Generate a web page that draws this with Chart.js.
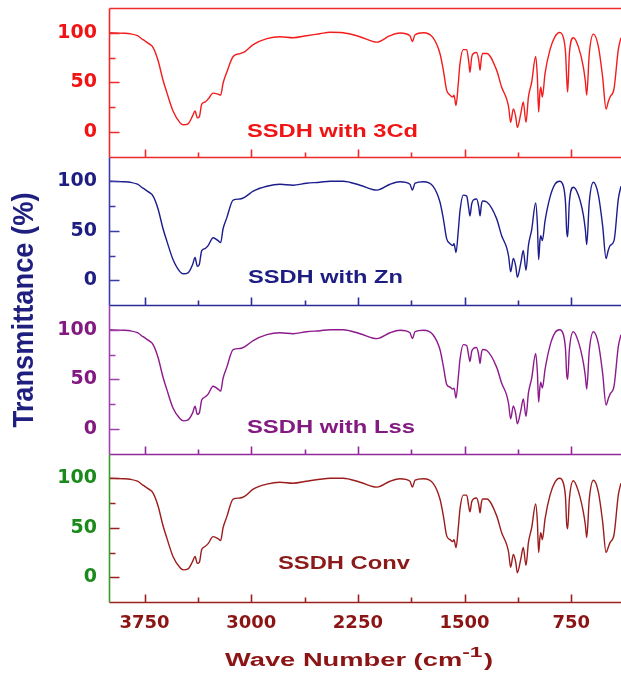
<!DOCTYPE html>
<html>
<head>
<meta charset="utf-8">
<script src="https://cdn.jsdelivr.net/npm/chart.js@4.4.1/dist/chart.umd.min.js"></script>
<style>
  html, body { margin: 0; padding: 0; background: #fff; }
  #ftir { display: block; }
</style>
</head>
<body>
<canvas id="ftir" width="621" height="675"></canvas>
<script>
// wave numbers (cm-1), shared by all four spectra
const waveNumbers = [4000,3900,3852,3800,3761,3720,3690,3655,3620,3592,
  3550,3500,3477,3444,3412,3395,3379,3365,3348,3325,
  3303,3268,3233,3215,3198,3172,3127,3079,3044,2986,
  2890,2798,2706,2611,2517,2446,2354,2235,2116,2024,
  1954,1884,1867,1848,1789,1722,1673,1649,1626,1602,
  1583,1574,1560,1544,1532,1509,1485,1470,1462,1450,
  1438,1415,1400,1391,1382,1372,1344,1274,1239,1204,
  1190,1176,1157,1140,1129,1105,1087,1068,1051,1028,
  1000,988,979,970,964,953,934,899,864,833,
  805,790,782,775,763,735,700,665,650,641,
  623,594,559,529,505,490,477,449,419,400];

// transmittance (%)
const ssdh3Cd = [100,99.5,99,97,93,89,85,72,52,39,
  21,9,7,8,16,21,14,15,28,30,
  33,39,38,37,49,60,76,79,81,88,
  94,96,95,97,99,100.5,100,96,90.5,97,
  99.7,97,91,98,100,95,79,62,42,37,
  35,37,26.5,49,69,83,83,70,60,75,
  79,80,72,62,74,79,79,62,45,33,
  25,9.5,23,15,4.4,18,30,9.5,35,50,
  76,55,20,40,45,35,59,83,96,100.3,
  95,80,55,40,79,95,86,65.6,50,37,
  79,98.6,86,55,23,30,35,43.5,83,95];

const ssdhZn = [100,99.5,99,97,93,89,85,72,52,39,
  21,8.5,6.5,7.5,16,23,14,16,30,32,
  35,43,40,38,52,63,81,82,84,90,
  95,97,96,98,99,100,100,96,91,97,
  99.5,97,91,98,99.5,95,79,62,42,37,
  35,37,28,50,70,86,85,72,65,77,
  81,82,74,65,76,80,79,62,45,33,
  24,8.5,22,14,3,17,30,10,35,51,
  78,57,21,40,45,40,60,84,97,100,
  95,78,50,44,79,94,86,66,50,36,
  79,99,86,55,22,30,35,40,82,95];

const ssdhLss = [100,99.5,99,97,93,89,85,72,52,39,
  21,10,8,9,16,22.7,14.5,16,29,32,
  35,43,40,38,51,62,80,81,83,89,
  95,97,96,98,99,100,100,96,91,97,
  99.5,97,91,98,99.5,95,80,63,45,42,
  40,41,31,52,70,85,84,73,68,78,
  81,82,74,66,76,80,79,62,46,34,
  25,10,23,15,5,18,30,12.5,36,51,
  76,57,27,42,47,41,60,84,97,100,
  95,80,55,50,80,98,88,67,52,40,
  79,98,86,56,24,30,35,43,83,95];

const ssdhConv = [100,99.5,99,97,93,89,85,72,52,39,
  21,9.5,7.5,8.5,16,21,14,15,28,31,
  34,41,39,37,50,61,79,80,82,89,
  94,96,95,97,99,100,100,96,91,97,
  99.5,97,91,98,99.5,95,79,62,42,38,
  36,38,30,50,69,83,83,71,66,76,
  79,80,73,65,75,79,79,62,45,33,
  25,10,23,15,4.5,18,30,12,35,50,
  74,56,25,40,45,38,59,83,96,100,
  95,80,54,49,79,97.5,87,66,52,40,
  79,98,86,56,25,30,35,43,83,95];

const seriesNames = ['SSDH with 3Cd', 'SSDH with Zn', 'SSDH with Lss', 'SSDH Conv'];
const xTicks = [3750, 3000, 2250, 1500, 750];
const yTicks = [0, 50, 100];
const yMinorTicks = [25, 75];

// panel looks, top to bottom
const panels = [
  { id: 'yCd',   values: ssdh3Cd,  line: '#f21c1c', text: '#f01414', side: '#ee2a2a', base: '#ee2a2a', weight: 4, note: { wn: 3030, t: -5.6, w: 171 } },
  { id: 'yZn',   values: ssdhZn,   line: '#1c1c8c', text: '#1e1e82', side: '#3a3aa8', base: '#2a2a98', weight: 3, note: { wn: 3023, t: -3,   w: 155 } },
  { id: 'yLss',  values: ssdhLss,  line: '#8c1a8c', text: '#821a82', side: '#a040b0', base: '#92289a', weight: 2, note: { wn: 3030, t: -4.6, w: 168 } },
  { id: 'yConv', values: ssdhConv, line: '#9b1c1c', text: '#1a8a1a', side: '#3a9a2a', base: '#9b2020', weight: 1, note: { wn: 2812, t: 8.3,  w: 132 }, noteColor: '#8b1a1a' }
];

const textFont = '"Liberation Sans", Arial, sans-serif';

function stretchText(ctx, text, x, y, size, targetW, color) {
  ctx.save();
  ctx.font = 'bold ' + size + 'px ' + textFont;
  ctx.fillStyle = color;
  ctx.textBaseline = 'alphabetic';
  ctx.textAlign = 'left';
  const k = targetW / ctx.measureText(text).width;
  ctx.translate(x, y);
  ctx.scale(k, 1);
  ctx.fillText(text, 0, 0);
  ctx.restore();
}

// no extra room for half tick labels: the panels sit flush
function noPadding(s) {
  s.paddingTop = 0; s.paddingBottom = 0; s.paddingLeft = 0; s.paddingRight = 0;
}

const framePlugin = {
  id: 'frames',
  afterDatasetsDraw(chart) {
    const { ctx, chartArea: a, scales } = chart;
    const xs = scales.x;
    const xMinor = [];
    for (let i = 0; i < xTicks.length - 1; i++) xMinor.push((xTicks[i] + xTicks[i + 1]) / 2);

    ctx.save();
    ctx.lineWidth = 1.6;
    panels.forEach((p, idx) => {
      const s = scales[p.id];
      const top = Math.round(s.top) + 0.5, bot = Math.round(s.bottom) + 0.5;
      const left = Math.round(a.left) + 0.5;

      // top line of the first panel
      if (idx === 0) {
        ctx.strokeStyle = p.base;
        ctx.beginPath(); ctx.moveTo(left, top); ctx.lineTo(a.right, top); ctx.stroke();
      }
      // bottom line with inward x ticks
      ctx.strokeStyle = p.base;
      ctx.beginPath(); ctx.moveTo(left, bot); ctx.lineTo(a.right, bot);
      xTicks.forEach(v => { const px = Math.round(xs.getPixelForValue(v)) + 0.5; ctx.moveTo(px, bot); ctx.lineTo(px, bot - 8); });
      xMinor.forEach(v => { const px = Math.round(xs.getPixelForValue(v)) + 0.5; ctx.moveTo(px, bot); ctx.lineTo(px, bot - 5); });
      ctx.stroke();

      // inward y ticks
      ctx.strokeStyle = idx === 3 ? p.base : p.side;
      ctx.beginPath();
      yTicks.forEach(v => { const py = Math.round(s.getPixelForValue(v)) + 0.5; ctx.moveTo(left, py); ctx.lineTo(left + 10, py); });
      yMinorTicks.forEach(v => { const py = Math.round(s.getPixelForValue(v)) + 0.5; ctx.moveTo(left, py); ctx.lineTo(left + 6, py); });
      ctx.stroke();

      // left side
      ctx.strokeStyle = p.side;
      ctx.beginPath(); ctx.moveTo(left, top); ctx.lineTo(left, bot); ctx.stroke();

      // series name inside the panel
      stretchText(ctx, seriesNames[idx], xs.getPixelForValue(p.note.wn), s.getPixelForValue(p.note.t),
        19, p.note.w, p.noteColor || p.text);
    });
    ctx.restore();

    // y title, rotated
    ctx.save();
    ctx.font = 'bold 27px ' + textFont;
    ctx.fillStyle = '#1f1f80';
    ctx.textAlign = 'center';
    ctx.textBaseline = 'alphabetic';
    const yt = 'Transmittance (%)';
    const k = 235 / ctx.measureText(yt).width;
    ctx.translate(33, (a.top + a.bottom) / 2 + 5);
    ctx.rotate(-Math.PI / 2);
    ctx.scale(k, 1.08);
    ctx.fillText(yt, 0, 0);
    ctx.restore();

    // x title with superscript
    ctx.save();
    ctx.fillStyle = '#8b1414';
    ctx.textBaseline = 'alphabetic';
    ctx.textAlign = 'left';
    const main = 'Wave Number (cm', sup = '-1', close = ')';
    ctx.font = 'bold 18px ' + textFont;
    const w1 = ctx.measureText(main).width, w3 = ctx.measureText(close).width;
    ctx.font = 'bold 15px ' + textFont;
    const w2 = ctx.measureText(sup).width + 1;
    const total = 268, kx = total / (w1 + w2 + w3);
    ctx.translate(359 - total / 2, 666);
    ctx.scale(kx, 1);
    ctx.font = 'bold 18px ' + textFont;
    ctx.fillText(main, 0, 0);
    ctx.font = 'bold 15px ' + textFont;
    ctx.fillText(sup, w1, -9);
    ctx.font = 'bold 18px ' + textFont;
    ctx.fillText(close, w1 + w2, 0);
    ctx.restore();
  }
};

const yScales = {};
panels.forEach(p => {
  yScales[p.id] = {
    type: 'linear',
    position: 'left',
    stack: 'ftir',
    stackWeight: 1,
    weight: p.weight,
    min: -25,
    max: 125,
    afterBuildTicks: s => { s.ticks = yTicks.map(v => ({ value: v })); },
    afterFit: s => { s.width = 109; noPadding(s); },
    grid: { display: false, drawTicks: false },
    border: { display: false },
    ticks: {
      color: p.text,
      padding: 12,
      font: { family: '"DejaVu Sans", sans-serif', weight: 'bold', size: 19 }
    }
  };
});

new Chart(document.getElementById('ftir'), {
  type: 'line',
  data: {
    datasets: panels.map((p, i) => ({
      label: seriesNames[i],
      data: waveNumbers.map((w, j) => ({ x: w, y: p.values[j] })),
      yAxisID: p.id,
      xAxisID: 'x',
      borderColor: p.line,
      borderWidth: 1.4,
      pointRadius: 0,
      fill: false,
      cubicInterpolationMode: 'monotone'
    }))
  },
  options: {
    responsive: false,
    animation: false,
    layout: { padding: { top: 8, left: 0, right: 0, bottom: 0 } },
    plugins: { legend: { display: false }, tooltip: { enabled: false } },
    scales: Object.assign({
      x: {
        type: 'linear',
        position: 'bottom',
        reverse: true,
        min: 400,
        max: 4000,
        afterBuildTicks: s => { s.ticks = xTicks.map(v => ({ value: v })); },
        afterFit: s => { s.height = 73; noPadding(s); },
        grid: { display: false, drawTicks: false },
        border: { display: false },
        ticks: {
          color: '#8b1414',
          padding: 11,
          maxRotation: 0,
          autoSkip: false,
          callback: v => String(v),
          font: { family: '"DejaVu Sans", sans-serif', weight: 'bold', size: 18 }
        }
      }
    }, yScales)
  },
  plugins: [framePlugin]
});
</script>
</body>
</html>
